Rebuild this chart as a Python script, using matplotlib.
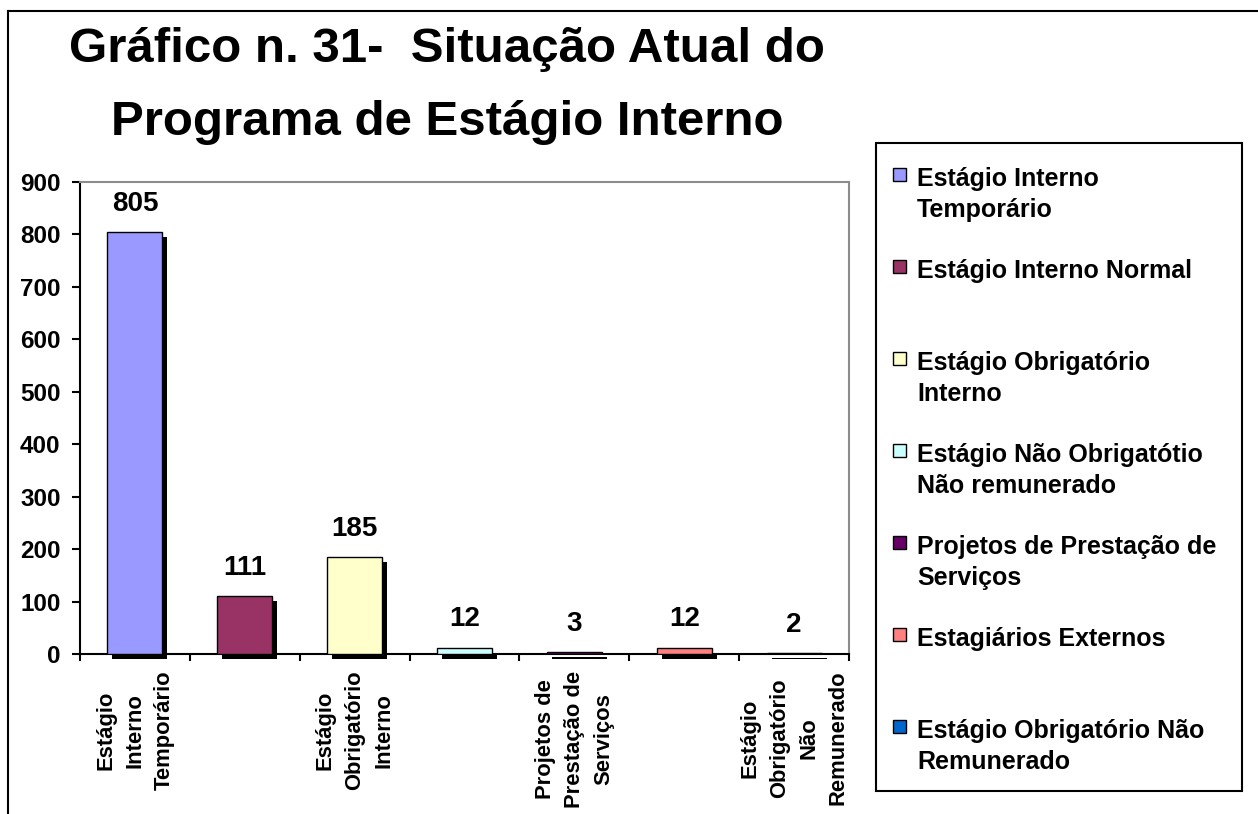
import matplotlib
matplotlib.use("Agg")
import matplotlib.pyplot as plt
from matplotlib.lines import Line2D
from matplotlib.patches import Rectangle
from matplotlib.transforms import offset_copy

plt.rcParams['font.family'] = ['Liberation Sans', 'DejaVu Sans']
plt.rcParams['font.weight'] = 'bold'

# data
series = ["Estágio Interno Temporário", "Estágio Interno Normal",
          "Estágio Obrigatório Interno", "Estágio Não Obrigatótio Não remunerado",
          "Projetos de Prestação de Serviços", "Estagiários Externos",
          "Estágio Obrigatório Não Remunerado"]
values = [805, 111, 185, 12, 3, 12, 2]
colors = ["#9999FF", "#993366", "#FFFFCC", "#CCFFFF", "#660066", "#FF8080", "#0066CC"]
xlabels = ["Estágio\nInterno\nTemporário", "",
           "Estágio\nObrigatório\nInterno", "",
           "Projetos de\nPrestação de\nServiços", "",
           "Estágio\nObrigatório\nNão\nRemunerado"]
legend_labels = ["Estágio Interno\nTemporário", "Estágio Interno Normal",
                 "Estágio Obrigatório\nInterno", "Estágio Não Obrigatótio\nNão remunerado",
                 "Projetos de Prestação de\nServiços", "Estagiários Externos",
                 "Estágio Obrigatório Não\nRemunerado"]
yticks = list(range(0, 1000, 100))

W, H = 1258, 814
fig = plt.figure(figsize=(W / 100, H / 100), dpi=100)
ax = fig.add_axes([80 / W, 1 - 654 / H, 769 / W, 472 / H])

x = list(range(len(values)))
shadow = offset_copy(ax.transData, fig=fig, x=5, y=-5, units='dots')
ax.bar(x, values, width=0.5, color='black', transform=shadow, zorder=2, clip_on=False)
ax.bar(x, values, width=0.5, color=colors, edgecolor='black', linewidth=1, zorder=3)

for xi, v in zip(x, values):
    ax.annotate(str(v), (xi, v), xytext=(0, 11), textcoords='offset points',
                ha='center', va='bottom', fontsize=20, fontweight='bold')

ax.set_xlim(-0.5, len(values) - 0.5)
ax.set_ylim(0, 900)
ax.set_yticks(yticks)
ax.tick_params(axis='y', labelsize=17.5, length=6, width=1.5, pad=8, direction='out')

ax.set_xticks([i - 0.5 for i in range(len(values) + 1)])
ax.set_xticklabels([])
ax.set_xticks(x, minor=True)
ax.set_xticklabels(xlabels, minor=True, rotation=90, ha='center', va='top',
                   fontsize=15.8, fontweight='bold', linespacing=1.52, multialignment='center')
ax.tick_params(axis='x', which='major', length=5, width=1.5, direction='out')
ax.tick_params(axis='x', which='minor', length=0, pad=12)

for s in ['left', 'bottom']:
    ax.spines[s].set_color('black')
    ax.spines[s].set_linewidth(1.5)
for s in ['top', 'right']:
    ax.spines[s].set_color('#8c8c8c')
    ax.spines[s].set_linewidth(1.5)

fig.text(447 / W, 1 - 27 / H, "Gráfico n. 31-  Situação Atual do\nPrograma de Estágio Interno",
         ha='center', va='top', fontsize=35.5, fontweight='bold', linespacing=1.8)

# legend box
fig.add_artist(Rectangle((876 / W, 1 - 791 / H), 366 / W, 648 / H, transform=fig.transFigure,
                         facecolor='none', edgecolor='black', linewidth=1.5))
for i, (lab, c) in enumerate(zip(legend_labels, colors)):
    base = 186 + i * 92
    fig.add_artist(Rectangle((893 / W, 1 - (base - 5) / H), 13 / W, 13 / H,
                             transform=fig.transFigure, facecolor=c,
                             edgecolor='black', linewidth=1))
    fig.text(917 / W, 1 - (base - 19) / H, lab, ha='left', va='top',
             fontsize=18, fontweight='bold', linespacing=1.38)

# outer frame (cropped chart)
fig.add_artist(Line2D([8 / W, 1], [1 - 11 / H, 1 - 11 / H], color='black', linewidth=1.5))
fig.add_artist(Line2D([8 / W, 8 / W], [0, 1 - 11 / H], color='black', linewidth=1.5))

fig.savefig("out.png", dpi=100)
